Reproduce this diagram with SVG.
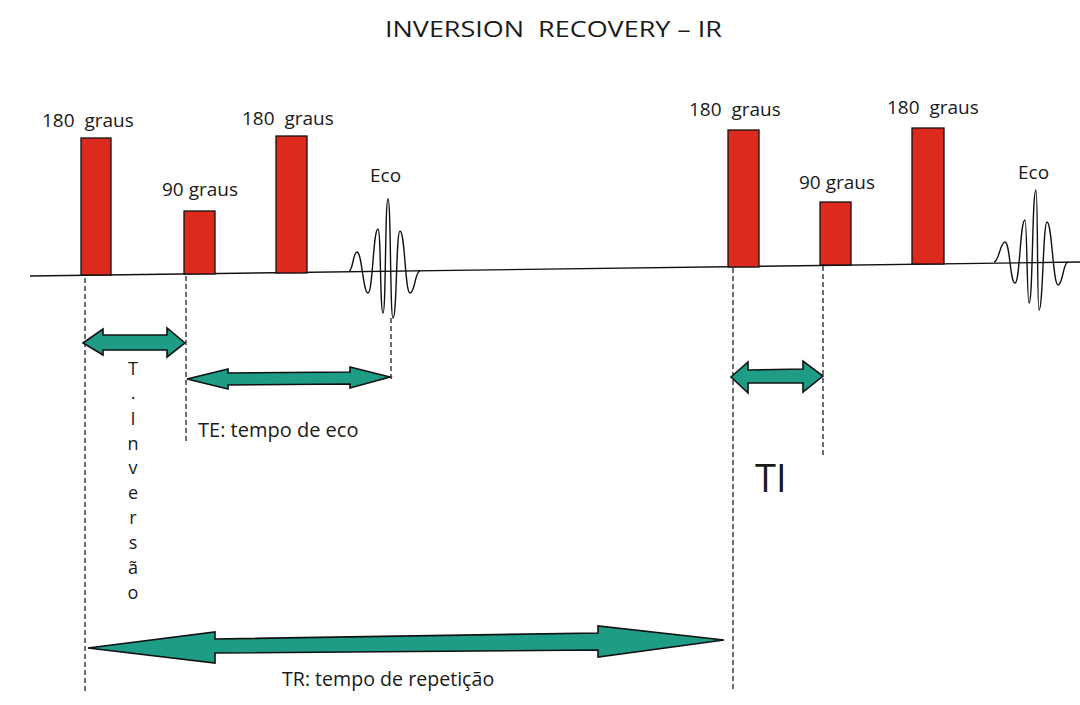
<svg xmlns="http://www.w3.org/2000/svg" width="1080" height="705" viewBox="0 0 1080 705">
<style>
text{font-family:"Open Sans","Liberation Sans",sans-serif;fill:#1a1a1a;white-space:pre}
.lbl{font-size:19px}
.small{font-size:18px}
.pulse{fill:#dd2a1f;stroke:#111;stroke-width:1.3}
.arrow{fill:#1f9c85;stroke:#111;stroke-width:1.6;stroke-linejoin:miter}
.dash{stroke:#222;stroke-width:1.3;stroke-dasharray:5 3;fill:none}
.wave{fill:none;stroke:#111;stroke-width:1.4}
</style>
<rect width="1080" height="705" fill="#fff"/>
<g id="title"><text x="385" y="37" font-size="21.5" textLength="337" lengthAdjust="spacingAndGlyphs" xml:space="preserve">INVERSION  RECOVERY – IR</text></g>
<g id="baseline"><line x1="30" y1="276" x2="1080" y2="262" stroke="#111" stroke-width="1.4"/></g>
<g id="pulse1"><rect class="pulse" x="81" y="138" width="30" height="137"/><text class="lbl" x="42" y="127" xml:space="preserve">180  graus</text></g>
<g id="pulse2"><rect class="pulse" x="184" y="211" width="31" height="63"/><text class="lbl" x="162" y="196">90 graus</text></g>
<g id="pulse3"><rect class="pulse" x="276" y="136" width="31" height="137"/><text class="lbl" x="242" y="125" font-size="20" xml:space="preserve">180  graus</text></g>
<g id="echo1"><path class="wave" d="M349 271 C353 271 353 252 357 252 C362 252 363 293 368 293 C373 293 373 229 378 229 C381 229 380 313 383 313 C386 313 385 199 388 199 C391 199 390 318 393 318 C397 318 396 231 400 231 C405 231 405 293 410 293 C415 293 415 271 420 271"/><text class="lbl" x="370" y="182">Eco</text></g>
<g id="pulse4"><rect class="pulse" x="728" y="130" width="31" height="137"/><text class="lbl" x="689" y="116" xml:space="preserve">180  graus</text></g>
<g id="pulse5"><rect class="pulse" x="820" y="202" width="31" height="63"/><text class="lbl" x="799" y="189">90 graus</text></g>
<g id="pulse6"><rect class="pulse" x="912" y="128" width="32" height="136"/><text class="lbl" x="887" y="114" xml:space="preserve">180  graus</text></g>
<g id="echo2"><path class="wave" d="M994 262 C999 262 1000 242 1005 242 C1010 242 1010 283 1015 283 C1020 283 1020 220 1025 220 C1027 220 1027 303 1029 303 C1033 303 1032 190 1036 190 C1038 190 1037 310 1039 310 C1043 310 1043 222 1047 222 C1052 222 1053 285 1058 285 C1063 285 1063 262 1068 262"/><text class="lbl" x="1018" y="179">Eco</text></g>
<g id="connectors">
<line class="dash" x1="85" y1="278" x2="85" y2="693"/>
<line class="dash" x1="186" y1="276" x2="186" y2="441"/>
<line class="dash" x1="391" y1="318" x2="391" y2="381"/>
<line class="dash" x1="733" y1="268" x2="733" y2="690"/>
<line class="dash" x1="823" y1="266" x2="823" y2="455"/>
<polygon id="arrow-ti-left" class="arrow" points="83,343 103,329 103,335 167,335 167,328 185,343 167,357 167,350 103,350 103,355"/>
<polygon id="arrow-te" class="arrow" points="187,379 228,369 228,373 350,372 350,367 390,377 350,388 350,384 228,385 228,389"/>
<polygon id="arrow-ti" class="arrow" points="731,377 748,362 748,370 803,369 803,361 823,376 803,392 803,383 748,383 748,393"/>
<polygon id="arrow-tr" class="arrow" points="88,648 215,632 215,639 598,633 598,626 724,640 598,657 598,650 215,653 215,663"/>
</g>
<g id="label-tinversao" class="small" text-anchor="middle">
<text x="133" y="375">T</text>
<text x="133" y="399">.</text>
<text x="133" y="425">I</text>
<text x="133" y="450">n</text>
<text x="133" y="474">v</text>
<text x="133" y="499">e</text>
<text x="133" y="524">r</text>
<text x="133" y="549">s</text>
<text x="133" y="574">ã</text>
<text x="133" y="599">o</text>
</g>
<g id="label-te"><text x="198" y="437" font-size="20">TE: tempo de eco</text></g>
<g id="label-ti"><text x="755" y="492" font-size="38">TI</text></g>
<g id="label-tr"><text x="282" y="686" font-size="19.6">TR: tempo de repetição</text></g>
</svg>
